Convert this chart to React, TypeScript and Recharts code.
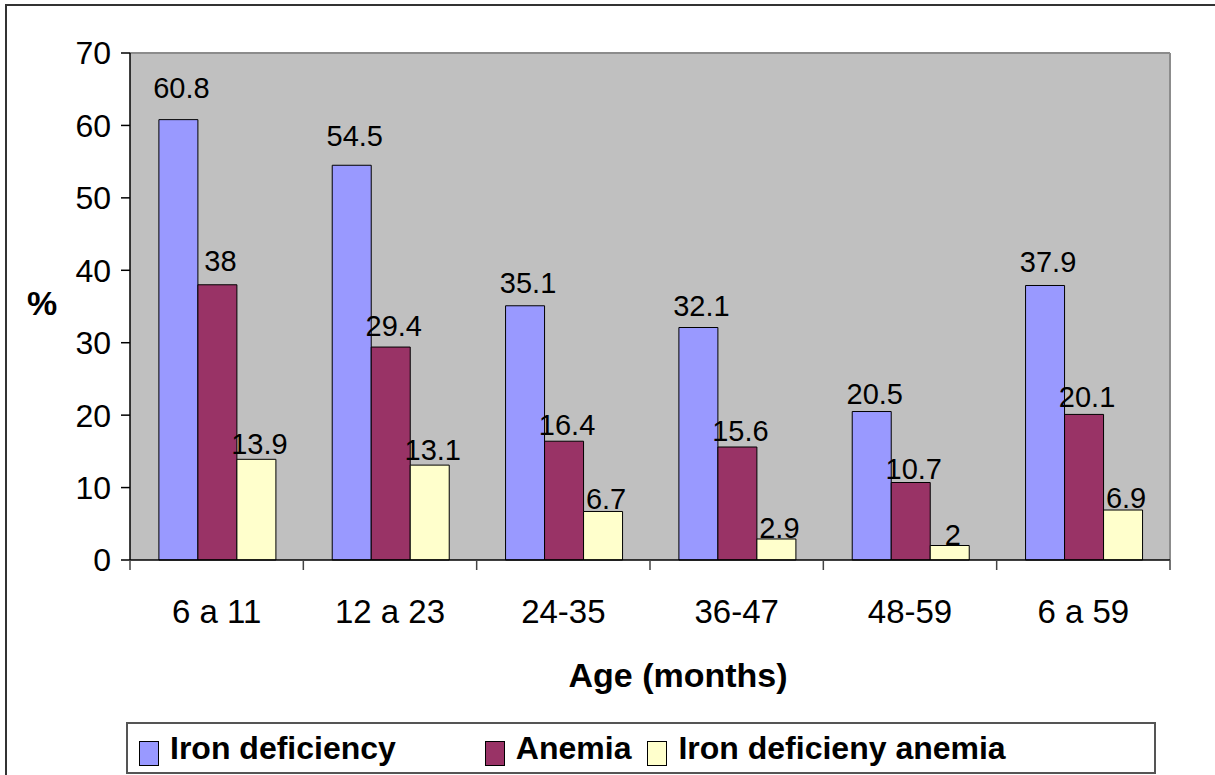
import { Bar, BarChart, CartesianGrid, LabelList, Legend, XAxis, YAxis } from "recharts";

const ageGroups = ["6 a 11", "12 a 23", "24-35", "36-47", "48-59", "6 a 59"];
const ironDeficiency = [60.8, 54.5, 35.1, 32.1, 20.5, 37.9];
const anemia = [38, 29.4, 16.4, 15.6, 10.7, 20.1];
const ironDeficiencyAnemia = [13.9, 13.1, 6.7, 2.9, 2, 6.9];
const yTicks = [0, 10, 20, 30, 40, 50, 60, 70];

const series = [
  { key: "ironDeficiency", name: "Iron deficiency", color: "#9999FF" },
  { key: "anemia", name: "Anemia", color: "#993366" },
  { key: "ironDeficiencyAnemia", name: "Iron deficieny anemia", color: "#FFFFCC" },
];

const data = ageGroups.map((age, i) => ({
  age,
  ironDeficiency: ironDeficiency[i],
  anemia: anemia[i],
  ironDeficiencyAnemia: ironDeficiencyAnemia[i],
}));

const FONT = "'Liberation Sans', Arial, sans-serif";
// spacing after each legend entry (Excel lays them out in uneven columns)
const legendGaps = [89, 16, 0];

function AgeTick(props: any) {
  const { x, y, width, payload, index } = props;
  const half = payload?.offset || width / ageGroups.length / 2;
  const last = index === ageGroups.length - 1;
  return (
    <g>
      <line x1={x - half} x2={x - half} y1={y} y2={y + 10} stroke="#444" strokeWidth={1.5} />
      {last && <line x1={x + half} x2={x + half} y1={y} y2={y + 10} stroke="#444" strokeWidth={1.5} />}
      <text x={x} y={y + 51} textAnchor="middle" dominantBaseline="central" fontSize={33} fontFamily={FONT} fill="#000">
        {payload.value}
      </text>
    </g>
  );
}

// Excel's labels drift upward a little more on taller columns
function ValueLabel(props: any) {
  const { x, y, width, height, value } = props;
  return (
    <text
      x={x + width / 2 + 3}
      y={y - 10 - 0.05 * height}
      textAnchor="middle"
      dominantBaseline="central"
      fontSize={29}
      fontFamily={FONT}
      fill="#000"
    >
      {value}
    </text>
  );
}

function LegendBox() {
  return (
    <div
      style={{
        boxSizing: "border-box",
        height: 52,
        border: "2px solid #555",
        background: "#fff",
        display: "flex",
        alignItems: "center",
        paddingLeft: 11,
        fontFamily: FONT,
        fontWeight: "bold",
        fontSize: 32,
        color: "#000",
        whiteSpace: "nowrap",
      }}
    >
      {series.map((s, i) => (
        <div key={s.key} style={{ display: "flex", alignItems: "center", marginRight: legendGaps[i] }}>
          <span
            style={{
              display: "inline-block",
              width: 18,
              height: 23,
              background: s.color,
              border: "1px solid #000",
              marginRight: 11,
              marginTop: 10,
            }}
          />
          <span>{s.name}</span>
        </div>
      ))}
    </div>
  );
}

export default function App() {
  return (
    <div style={{ position: "fixed", left: 0, top: 0, width: 1215, height: 775, overflow: "hidden", background: "#fff" }}>
      <div
        style={{
          position: "absolute",
          left: 5,
          top: 4,
          width: 1260,
          height: 820,
          border: "2px solid #333",
        }}
      />
      <BarChart
        width={1215}
        height={775}
        data={data}
        margin={{ top: 53, right: 45, left: 70, bottom: 23 }}
        barCategoryGap="16.67%"
        barGap={0}
        style={{ position: "absolute", left: 0, top: 0 }}
      >
        <CartesianGrid
          fill="#C0C0C0"
          stroke="#8c8c8c"
          strokeWidth={2}
          horizontalCoordinatesGenerator={({ offset }: any) => [offset.top]}
          verticalCoordinatesGenerator={({ offset }: any) => [offset.left + offset.width]}
        />
        <XAxis
          dataKey="age"
          height={140}
          interval={0}
          tickSize={0}
          tickMargin={0}
          tickLine={false}
          axisLine={{ stroke: "#000", strokeWidth: 1.5 }}
          tick={<AgeTick />}
          label={{
            content: ({ viewBox }: any) => (
              <text
                x={viewBox.x + viewBox.width / 2 + 28}
                y={viewBox.y + 115}
                textAnchor="middle"
                dominantBaseline="central"
                fontSize={34}
                fontWeight="bold"
                fontFamily={FONT}
                fill="#000"
              >
                Age (months)
              </text>
            ),
          }}
        />
        <YAxis
          width={60}
          domain={[0, 70]}
          ticks={yTicks}
          interval={0}
          tickSize={9}
          tickMargin={10}
          axisLine={{ stroke: "#000", strokeWidth: 1.5 }}
          tickLine={{ stroke: "#000", strokeWidth: 1.5 }}
          tick={{ fontSize: 32, fontFamily: FONT, fill: "#000" }}
          label={{
            content: ({ viewBox }: any) => (
              <text
                x={viewBox.x - 28}
                y={viewBox.y + viewBox.height / 2 - 4}
                textAnchor="middle"
                dominantBaseline="central"
                fontSize={34}
                fontWeight="bold"
                fontFamily={FONT}
                fill="#000"
              >
                %
              </text>
            ),
          }}
        />
        <Legend
          verticalAlign="bottom"
          height={52}
          content={<LegendBox />}
          wrapperStyle={{ left: 126, top: 722, bottom: "auto", width: 1030, height: 52 }}
        />
        {series.map((s) => (
          <Bar
            key={s.key}
            dataKey={s.key}
            name={s.name}
            fill={s.color}
            stroke="#000"
            strokeWidth={1}
            isAnimationActive={false}
          >
            <LabelList dataKey={s.key} content={<ValueLabel />} />
          </Bar>
        ))}
      </BarChart>
    </div>
  );
}
